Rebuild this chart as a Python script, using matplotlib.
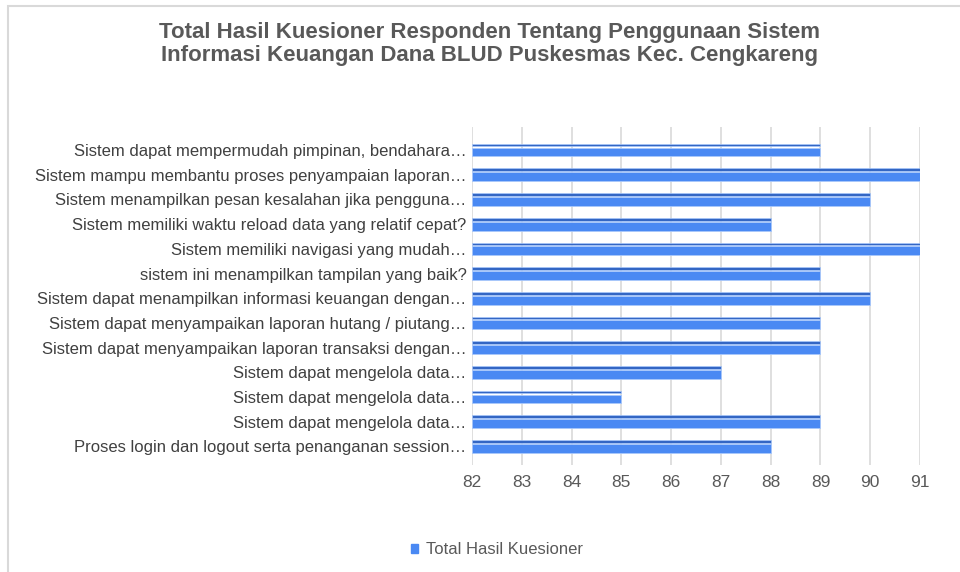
import matplotlib
matplotlib.use("Agg")
import matplotlib.pyplot as plt
from matplotlib.patches import Rectangle
import numpy as np

categories = [
    "Sistem dapat mempermudah pimpinan, bendahara…",
    "Sistem mampu membantu proses penyampaian laporan…",
    "Sistem menampilkan pesan kesalahan jika pengguna…",
    "Sistem memiliki waktu reload data yang relatif cepat?",
    "Sistem memiliki navigasi yang mudah…",
    "sistem ini menampilkan tampilan yang baik?",
    "Sistem dapat menampilkan informasi keuangan dengan…",
    "Sistem dapat menyampaikan laporan hutang / piutang…",
    "Sistem dapat menyampaikan laporan transaksi dengan…",
    "Sistem dapat mengelola data…",
    "Sistem dapat mengelola data…",
    "Sistem dapat mengelola data…",
    "Proses login dan logout serta penanganan session…",
]
values = [89, 91, 90, 88, 91, 89, 90, 89, 89, 87, 85, 89, 88]
x_ticks = [82, 83, 84, 85, 86, 87, 88, 89, 90, 91]
series_name = "Total Hasil Kuesioner"
title = "Total Hasil Kuesioner Responden Tentang Penggunaan Sistem\nInformasi Keuangan Dana BLUD Puskesmas Kec. Cengkareng"

plt.rcParams['font.family'] = ['Liberation Sans', 'DejaVu Sans']

fig = plt.figure(figsize=(9.6, 5.72), dpi=100)
fig.patches.append(Rectangle((8/960, -0.1), 1.2, 1 - 6/572 + 0.1, transform=fig.transFigure,
                             fill=False, edgecolor='#d9d9d9', linewidth=1.5))

ax = fig.add_axes([472/960, 1 - 465/572, (920 - 472)/960, (465 - 127)/572])
n = len(categories)
y = np.arange(n)[::-1]
front = '#4a89f3'
topc = '#3366c4'
ax.barh(y - 0.08, [v - 82 for v in values], left=82, height=0.36, color=front,
        edgecolor='#a9c8fb', linewidth=0.6, zorder=3)
ax.barh(y + 0.2, [v - 82 for v in values], left=82, height=0.11, color=topc,
        edgecolor='#a9c8fb', linewidth=0.5, zorder=3)

ax.set_xlim(82, 91)
ax.set_ylim(-0.75, n - 1 + 0.93)
ax.set_xticks(x_ticks)
ax.set_xticklabels([str(t) for t in x_ticks], fontsize=12.5, color='#595959')
ax.set_yticks(y)
ax.set_yticklabels(categories, fontsize=12, color='#404040')
ax.tick_params(axis='both', length=0)
ax.tick_params(axis='x', pad=7)
ax.tick_params(axis='y', pad=4)
ax.grid(axis='x', color='#d9d9d9', linewidth=1.2, zorder=0)
for s in ax.spines.values():
    s.set_visible(False)

fig.text(490/960, 1 - 44/572, title, ha='center', va='center', fontsize=16,
         fontweight='bold', color='#595959', linespacing=1.1)

ax.legend([Rectangle((0, 0), 1, 1, color=front)], [series_name],
          loc='center', bbox_to_anchor=(497/960, 1 - 550/572), bbox_transform=fig.transFigure,
          frameon=False, fontsize=12, handlelength=0.4, handleheight=0.4,
          handletextpad=0.5, labelcolor='#595959')

fig.savefig('out.png', dpi=100)
